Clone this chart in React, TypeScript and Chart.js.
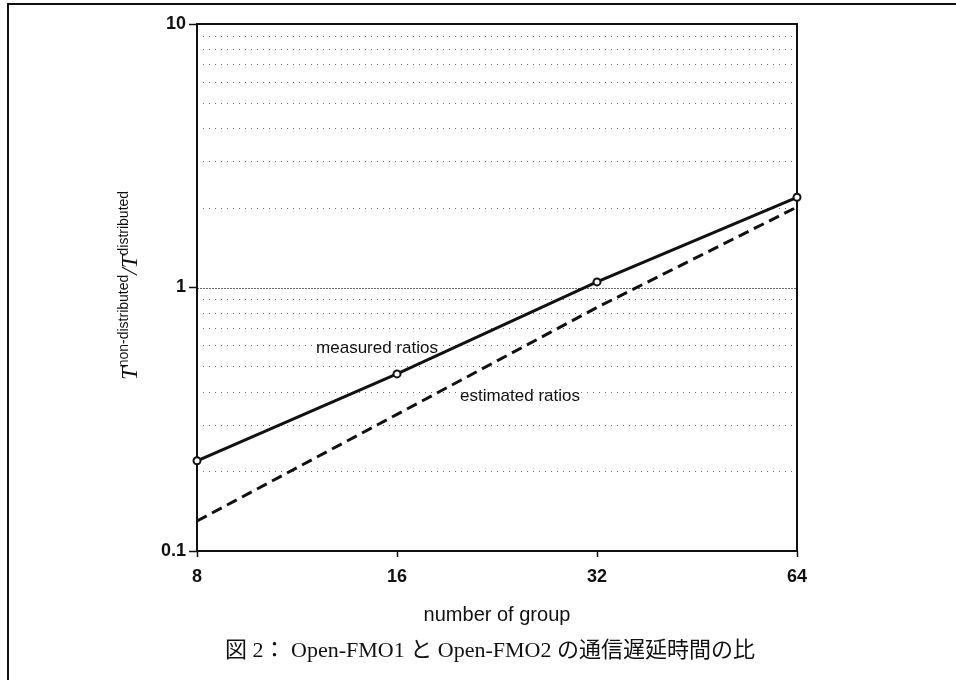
import React, { useEffect, useRef } from "react";
import { Chart, registerables } from "chart.js";

Chart.register(...registerables);

const CATEGORIES = ["8", "16", "32", "64"];
const MEASURED = [0.22, 0.47, 1.05, 2.2];
const ESTIMATED = [0.13, 0.33, 0.84, 2.02];
const Y_GRID_VALUES = [0.1, 0.2, 0.3, 0.4, 0.5, 0.6, 0.7, 0.8, 0.9, 1, 2, 3, 4, 5, 6, 7, 8, 9, 10];
const Y_TICK_LABELS = [0.1, 1, 10];
const MAJOR_GRID = [1];
const ANNOTATION_TEXTS = ["measured ratios", "estimated ratios"];
const ANNOTATION_X = [0.9, 1.615];
const ANNOTATION_Y = [0.59, 0.385];
const X_TITLE = "number of group";
const CAPTION = "図 2： Open-FMO1 と Open-FMO2 の通信遅延時間の比";

const SANS = "'Liberation Sans', Arial, sans-serif";
const SERIF = "'Liberation Serif', 'Noto Sans CJK JP', serif";

const framePlugin = {
  id: "plotFrame",
  beforeDatasetsDraw(chart: any) {
    const { ctx, chartArea } = chart;
    const y = chart.scales.y;
    ctx.save();
    ctx.strokeStyle = "#666";
    ctx.lineWidth = 1;
    ctx.setLineDash([2, 1]);
    MAJOR_GRID.forEach((v) => {
      const py = Math.round(y.getPixelForValue(v)) + 0.5;
      ctx.beginPath();
      ctx.moveTo(chartArea.left, py);
      ctx.lineTo(chartArea.right, py);
      ctx.stroke();
    });
    ctx.setLineDash([]);
    ctx.strokeStyle = "#111";
    ctx.lineWidth = 2;
    ctx.strokeRect(chartArea.left, chartArea.top, chartArea.right - chartArea.left, chartArea.bottom - chartArea.top);
    ctx.restore();
  },
  afterDraw(chart: any) {
    const { ctx, chartArea } = chart;
    const x = chart.scales.x;
    const y = chart.scales.y;
    ctx.save();
    ctx.fillStyle = "#111";
    ctx.font = `17px ${SANS}`;
    ctx.textAlign = "center";
    ctx.textBaseline = "middle";
    ANNOTATION_TEXTS.forEach((t, i) => {
      ctx.fillText(t, x.getPixelForValue(ANNOTATION_X[i]), y.getPixelForValue(ANNOTATION_Y[i]));
    });
    // rotated y-axis title with superscripts
    const segs = [
      { text: "T", font: `italic 23px ${SERIF}`, dy: 0 },
      { text: "non-distributed", font: `14px ${SANS}`, dy: -9 },
      { text: "/", font: `italic 23px ${SERIF}`, dy: 0 },
      { text: "T", font: `italic 23px ${SERIF}`, dy: 0 },
      { text: "distributed", font: `14px ${SANS}`, dy: -9 },
    ];
    let total = 0;
    const widths = segs.map((s) => {
      ctx.font = s.font;
      const w = ctx.measureText(s.text).width;
      total += w;
      return w;
    });
    const cx = chartArea.left - 68;
    const cy = (chartArea.top + chartArea.bottom) / 2 - 2;
    ctx.translate(cx, cy);
    ctx.rotate(-Math.PI / 2);
    ctx.textAlign = "left";
    ctx.textBaseline = "alphabetic";
    let px = -total / 2;
    segs.forEach((s, i) => {
      ctx.font = s.font;
      ctx.fillText(s.text, px, 8 + s.dy);
      px += widths[i];
    });
    ctx.restore();
  },
};

export default function App() {
  const ref = useRef<HTMLCanvasElement>(null);
  useEffect(() => {
    if (!ref.current) return;
    const chart = new Chart(ref.current, {
      type: "line",
      data: {
        labels: CATEGORIES,
        datasets: [
          {
            label: "measured ratios",
            data: MEASURED,
            borderColor: "#111",
            borderWidth: 3,
            pointRadius: 3.5,
            pointBorderWidth: 2,
            pointBackgroundColor: "#fff",
            pointBorderColor: "#111",
            tension: 0,
          },
          {
            label: "estimated ratios",
            data: ESTIMATED,
            borderColor: "#111",
            borderWidth: 3,
            borderDash: [11, 6],
            pointRadius: 0,
            tension: 0,
          },
        ],
      },
      options: {
        responsive: false,
        animation: false,
        layout: { padding: { top: 24, right: 159, bottom: 52.8, left: 0 } },
        plugins: { legend: { display: false }, tooltip: { enabled: false }, title: { display: false } },
        scales: {
          x: {
            type: "category",
            offset: false,
            grid: { display: true, drawOnChartArea: false, tickColor: "#111", tickLength: 6, tickWidth: 1.5, offset: false },
            border: { display: false },
            ticks: { color: "#111", padding: 9, font: { family: SANS, size: 18, weight: "bold" }, maxRotation: 0 },
            title: { display: true, text: X_TITLE, color: "#111", font: { family: SANS, size: 20 }, padding: { top: 6.6, bottom: 0 } },
          },
          y: {
            type: "logarithmic",
            min: 0.1,
            max: 10,
            afterBuildTicks: (scale: any) => {
              scale.ticks = Y_GRID_VALUES.map((v) => ({ value: v }));
            },
            afterFit: (scale: any) => {
              scale.width = 197;
            },
            grid: {
              color: (ctx: any) => {
                const v = ctx.tick ? ctx.tick.value : null;
                if (v === null || Y_TICK_LABELS.includes(v) || MAJOR_GRID.includes(v)) return "rgba(0,0,0,0)";
                return "#6a6a6a";
              },
              tickColor: (ctx: any) => (ctx.tick && Y_TICK_LABELS.includes(ctx.tick.value) ? "#111" : "rgba(0,0,0,0)"),
              tickLength: 8,
              tickWidth: 1.5,
              lineWidth: 1,
            },
            border: { display: false, dash: [1, 5] },
            ticks: {
              autoSkip: false,
              padding: 3,
              color: "#111",
              font: { family: SANS, size: 18, weight: "bold" },
              callback: (value: any) => (Y_TICK_LABELS.includes(Number(value)) ? String(value) : ""),
            },
          },
        },
      },
      plugins: [framePlugin],
    });
    return () => chart.destroy();
  }, []);

  return (
    <div style={{ position: "absolute", left: 0, top: 0, width: 956, height: 680, overflow: "hidden", background: "#fff" }}>
      <canvas ref={ref} width={956} height={680} style={{ position: "absolute", left: 0, top: 0 }} />
      <div style={{ position: "absolute", left: 7, top: 3, width: 1000, height: 800, borderLeft: "2px solid #111", borderTop: "2px solid #111", pointerEvents: "none" }} />
      <div style={{ position: "absolute", left: 0, width: 980, top: 636, textAlign: "center", fontFamily: SERIF, fontSize: 22, color: "#111", whiteSpace: "nowrap", lineHeight: "28px" }}>
        {CAPTION}
      </div>
    </div>
  );
}
